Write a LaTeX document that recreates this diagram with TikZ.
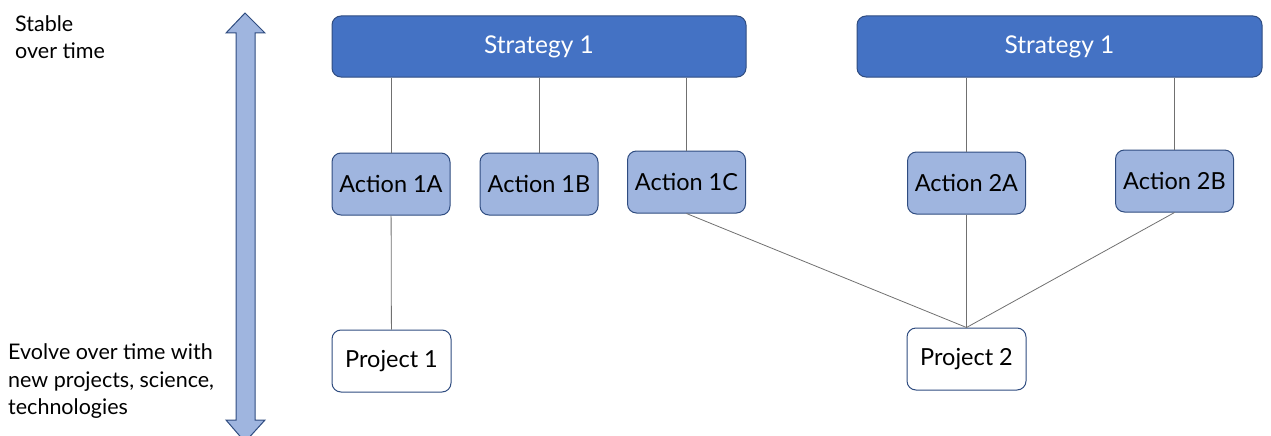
\documentclass[tikz,border=0pt]{standalone}
\usepackage{fontspec}
\setmainfont{Lato}
\usepackage{tikz}
\usetikzlibrary{positioning}

\definecolor{stratblue}{HTML}{4472C4}
\definecolor{actblue}{HTML}{9FB5DF}
\definecolor{edgeblue}{HTML}{2F4C80}
\definecolor{linkgray}{HTML}{707070}

\begin{document}
\begin{tikzpicture}[x=1pt,y=-1pt,
  strat/.style={draw=edgeblue,fill=stratblue,rounded corners=9pt,line width=1pt,
    minimum height=61pt,text=white,font=\fontsize{24.5}{28}\selectfont},
  act/.style={draw=edgeblue,fill=actblue,rounded corners=9pt,line width=1pt,
    minimum width=118pt,minimum height=62pt,font=\fontsize{23.5}{28}\selectfont},
  proj/.style={draw=edgeblue,fill=white,rounded corners=9pt,line width=1pt,
    minimum width=119pt,minimum height=62pt,font=\fontsize{23.5}{28}\selectfont},
  link/.style={draw=linkgray,line width=0.8pt},
  side/.style={align=left,anchor=north west,inner sep=0pt,font=\fontsize{21.5}{27.5}\selectfont}]
\useasboundingbox (0,0) rectangle (1271,436);

% time axis
\draw[edgeblue,fill=actblue,line width=1pt,line join=miter]
  (245,13) -- (265,33) -- (255,33) -- (255,420) -- (265,420) -- (245,442)
  -- (226,420) -- (236,420) -- (236,33) -- (226,33) -- cycle;
\node[side] (stable) at (15,15) {Stable\\over time};
\node[side] (evolve) at (8,343.5) {Evolve over time with\\new projects, science,\\technologies};

% strategies
\node[strat,minimum width=414pt] (s1) at (539,46.5) {Strategy 1};
\node[strat,minimum width=405pt] (s2) at (1059.5,46.5) {Strategy 1};

% actions
\node[act] (a1a) at (391,184) {Action 1A};
\node[act] (a1b) at (539,184) {Action 1B};
\node[act] (a1c) at (686.5,182) {Action 1C};
\node[act] (a2a) at (966.5,183) {Action 2A};
\node[act] (a2b) at (1174.5,181) {Action 2B};

% projects
\node[proj] (p1) at (391.5,361) {Project 1};
\node[proj] (p2) at (966.5,359) {Project 2};

% links
\draw[link] (s1.south -| a1a) -- (a1a);
\draw[link] (s1.south -| a1b) -- (a1b);
\draw[link] (s1.south -| a1c) -- (a1c);
\draw[link] (s2.south -| a2a) -- (a2a);
\draw[link] (s2.south -| a2b) -- (a2b);
\draw[link] (a1a) -- (p1);
\draw[link] (a1c.south) -- (p2.north);
\draw[link] (a2a.south) -- (p2.north);
\draw[link] (a2b.south) -- (p2.north);
\end{tikzpicture}
\end{document}
